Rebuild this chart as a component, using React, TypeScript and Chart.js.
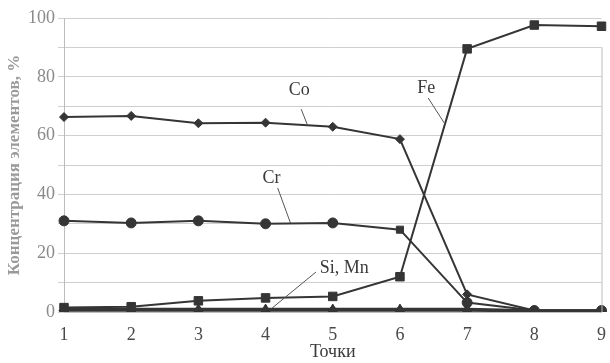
import React, { useEffect, useRef } from "react";
import { Chart, registerables } from "chart.js";

Chart.register(...registerables);

const points = ["1", "2", "3", "4", "5", "6", "7", "8", "9"];
const coValues = [66.3, 66.7, 64.2, 64.4, 63.0, 58.8, 6.0, 0.5, 0.5];
const crValues = [31.0, 30.3, 31.0, 30.0, 30.3, 28.0, 3.2, 0.5, 0.5];
const feValues = [1.5, 1.8, 3.8, 4.8, 5.3, 12.0, 89.5, 97.6, 97.2];
const siValues = [1.0, 1.0, 1.0, 1.0, 1.0, 1.0, 1.0, 0.5, 0.5];
const mnValues = [0.5, 0.5, 0.5, 0.5, 0.5, 0.5, 0.5, 0.3, 0.3];
const yTicks = [0, 20, 40, 60, 80, 100];

const INK = "#353535";
const FONT = "'Liberation Serif', 'DejaVu Serif', serif";

// labels with leader lines, in data units (x = point index from 0)
const annotations = [
  { text: "Co", tx: 3.5, ty: 75.5, x1: 3.53, y1: 69, x2: 3.62, y2: 63.8 },
  { text: "Fe", tx: 5.39, ty: 76.2, x1: 5.42, y1: 72.8, x2: 5.67, y2: 63.9 },
  { text: "Cr", tx: 3.09, ty: 45.6, x1: 3.18, y1: 42.2, x2: 3.37, y2: 30.3 },
  { text: "Si, Mn", tx: 4.17, ty: 15, x1: 3.75, y1: 13.6, x2: 3.09, y2: 1.2 },
];

const annotationPlugin = {
  id: "leaderLabels",
  afterDatasetsDraw(chart: any) {
    const { ctx, scales, chartArea } = chart;
    const xs = scales.x;
    const ys = scales.y;
    ctx.save();
    ctx.strokeStyle = "#bdbdbd";
    ctx.lineWidth = 1;
    ctx.beginPath();
    ctx.moveTo(chartArea.right + 0.5, ys.getPixelForValue(90));
    ctx.lineTo(chartArea.right + 0.5, chartArea.bottom);
    ctx.stroke();
    ctx.font = `18px ${FONT}`;
    ctx.fillStyle = "#3a3a3a";
    ctx.textAlign = "center";
    ctx.textBaseline = "middle";
    ctx.strokeStyle = "#555";
    ctx.lineWidth = 1;
    for (const a of annotations) {
      ctx.fillText(a.text, xs.getPixelForValue(a.tx), ys.getPixelForValue(a.ty));
      ctx.beginPath();
      ctx.moveTo(xs.getPixelForValue(a.x1), ys.getPixelForValue(a.y1));
      ctx.lineTo(xs.getPixelForValue(a.x2), ys.getPixelForValue(a.y2));
      ctx.stroke();
    }
    ctx.restore();
  },
};

function ds(label: string, data: number[], pointStyle: any, radius: number, width = 2) {
  return {
    label,
    data,
    borderColor: INK,
    backgroundColor: INK,
    borderWidth: width,
    pointStyle,
    pointRadius: radius,
    pointBorderWidth: 1,
    pointBackgroundColor: INK,
    pointBorderColor: INK,
    tension: 0,
  };
}

export default function App() {
  const ref = useRef<HTMLCanvasElement | null>(null);
  useEffect(() => {
    if (!ref.current) return;
    const crStyles = points.map((_, i) => (i === 5 ? "rect" : "circle"));
    const chart = new Chart(ref.current, {
      type: "line",
      data: {
        labels: points,
        datasets: [
          ds("Si", siValues, "triangle", 5, 2.5),
          ds("Mn", mnValues, "rectRot", 5, 2.5),
          ds("Co", coValues, "rectRot", 4.5),
          ds("Cr", crValues, crStyles, 5),
          ds("Fe", feValues, "rect", 6),
        ],
      },
      options: {
        animation: false,
        responsive: false,
        maintainAspectRatio: false,
        layout: { padding: { top: 18, right: 6, left: 4, bottom: 0 } },
        plugins: { legend: { display: false }, tooltip: { enabled: false } },
        scales: {
          x: {
            offset: false,
            grid: { display: false },
            border: { color: "#bdbdbd", width: 1 },
            ticks: {
              color: "#4a4a4a",
              font: { family: FONT, size: 18 },
              padding: 4,
              maxRotation: 0,
            },
            title: {
              display: true,
              text: "Точки",
              color: "#3a3a3a",
              font: { family: FONT, size: 18 },
              padding: { top: 3, bottom: 0 },
            },
            afterFit: (s: any) => {
              s.height = 51;
            },
          },
          y: {
            min: 0,
            max: 100,
            grid: { color: "#cfcfcf", lineWidth: 1, tickLength: 6 },
            border: { color: "#bdbdbd", width: 1 },
            ticks: {
              stepSize: 10,
              color: "#8a8a8a",
              font: { family: FONT, size: 18 },
              padding: 3,
              callback: (v: any) => (yTicks.includes(Number(v)) ? String(v) : ""),
            },
            title: {
              display: true,
              text: "Концентрация элементов, %",
              color: "#9a9a9a",
              font: { family: FONT, size: 17, weight: "bold" },
              padding: { top: 0, bottom: 2 },
            },
            afterFit: (s: any) => {
              s.width = 60;
            },
          },
        },
      },
      plugins: [annotationPlugin],
    } as any);
    return () => chart.destroy();
  }, []);
  return (
    <div style={{ position: "fixed", left: 0, top: 0, width: 610, height: 363, background: "#fff" }}>
      <canvas ref={ref} width={610} height={363} style={{ display: "block" }} />
    </div>
  );
}
